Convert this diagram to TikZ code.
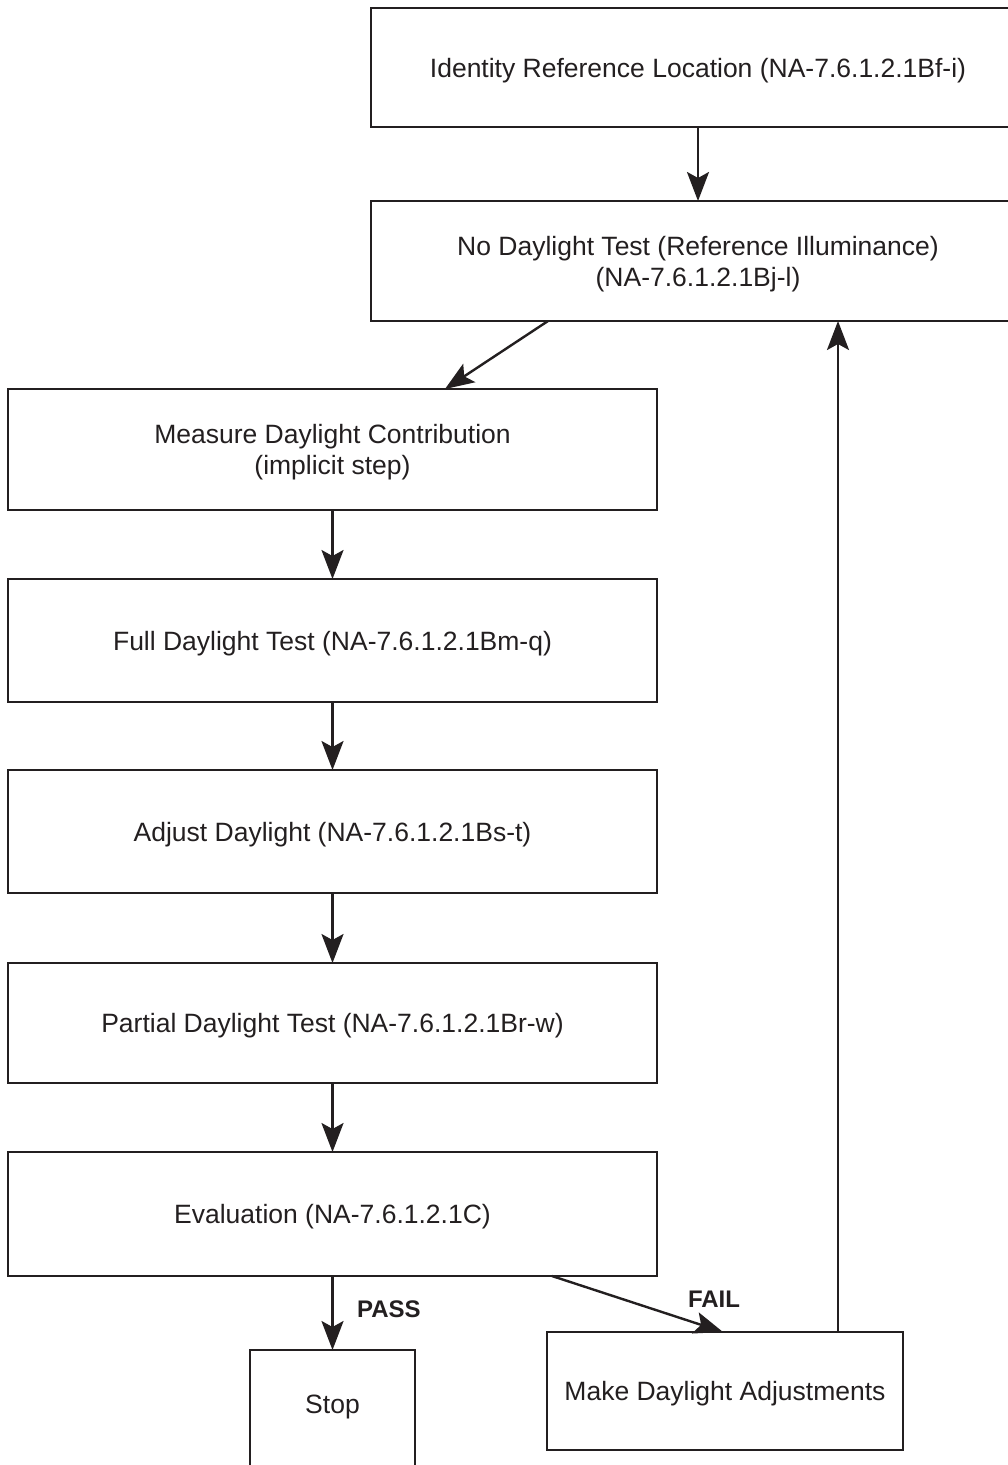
\documentclass[tikz,border=0pt]{standalone}
\usepackage{fontspec}
\setmainfont{Liberation Sans}
\usetikzlibrary{arrows.meta}
\definecolor{ink}{HTML}{231F20}
\begin{document}
\begin{tikzpicture}[x=1pt,y=-1pt,
  box/.style={draw=ink, line width=2.4pt, text=ink, align=center, inner sep=0pt, outer sep=0pt,
    text depth=0pt, font=\fontsize{26.5}{31}\selectfont},
  conn/.style={draw=ink, line width=2.4pt, -{Stealth[length=29pt,width=22pt,inset=6pt]}},
  lbl/.style={text=ink, font=\fontsize{24}{28}\selectfont}]
\useasboundingbox (0,0) rectangle (1008,1465);
\clip (0,0) rectangle (1008,1465);
\fill[white] (0,0) rectangle (1008,1465);
\node[box, minimum width=654pt, minimum height=119pt] (id) at (698,67.5) {Identity Reference Location (NA-7.6.1.2.1Bf-i)};
\node[box, minimum width=654pt, minimum height=120pt] (nd) at (698,261) {No Daylight Test (Reference Illuminance)\\(NA-7.6.1.2.1Bj-l)};
\node[box, minimum width=649pt, minimum height=121pt] (me) at (332.5,449.5) {Measure Daylight Contribution\\(implicit step)};
\node[box, minimum width=649pt, minimum height=123pt] (fu) at (332.5,640.5) {Full Daylight Test (NA-7.6.1.2.1Bm-q)};
\node[box, minimum width=649pt, minimum height=123pt] (ad) at (332.5,831.5) {Adjust Daylight (NA-7.6.1.2.1Bs-t)};
\node[box, minimum width=649pt, minimum height=120pt] (pa) at (332.5,1023) {Partial Daylight Test (NA-7.6.1.2.1Br-w)};
\node[box, minimum width=649pt, minimum height=124pt] (ev) at (332.5,1214) {Evaluation (NA-7.6.1.2.1C)};
\node[box, minimum width=165pt, minimum height=130pt] (st) at (332.5,1415) {};
\node[text=ink, font=\fontsize{26.5}{31}\selectfont] (stt) at (332.5,1407) {Stop};
\node[box, minimum width=356pt, minimum height=118pt] (mk) at (725,1391) {Make Daylight Adjustments};

\draw[conn] (id.south) -- (nd.north);
\draw[conn] ([xshift=177pt]nd.south west) -- ([xshift=437pt]me.north west);
\draw[conn] (me.south) -- (fu.north);
\draw[conn] (fu.south) -- (ad.north);
\draw[conn] (ad.south) -- (pa.north);
\draw[conn] (pa.south) -- (ev.north);
\draw[conn] (ev.south) -- node[lbl, right=20pt, pos=0.45] (pass) {\textbf{PASS}} (st.north);
\draw[conn] ([xshift=544pt]ev.south west) -- ([xshift=176pt]mk.north west);
\node[lbl] (fail) at (714,1299) {\textbf{FAIL}};
\draw[conn] ([xshift=113pt]mk.north) -- ([xshift=467pt]nd.south west);
\end{tikzpicture}
\end{document}
